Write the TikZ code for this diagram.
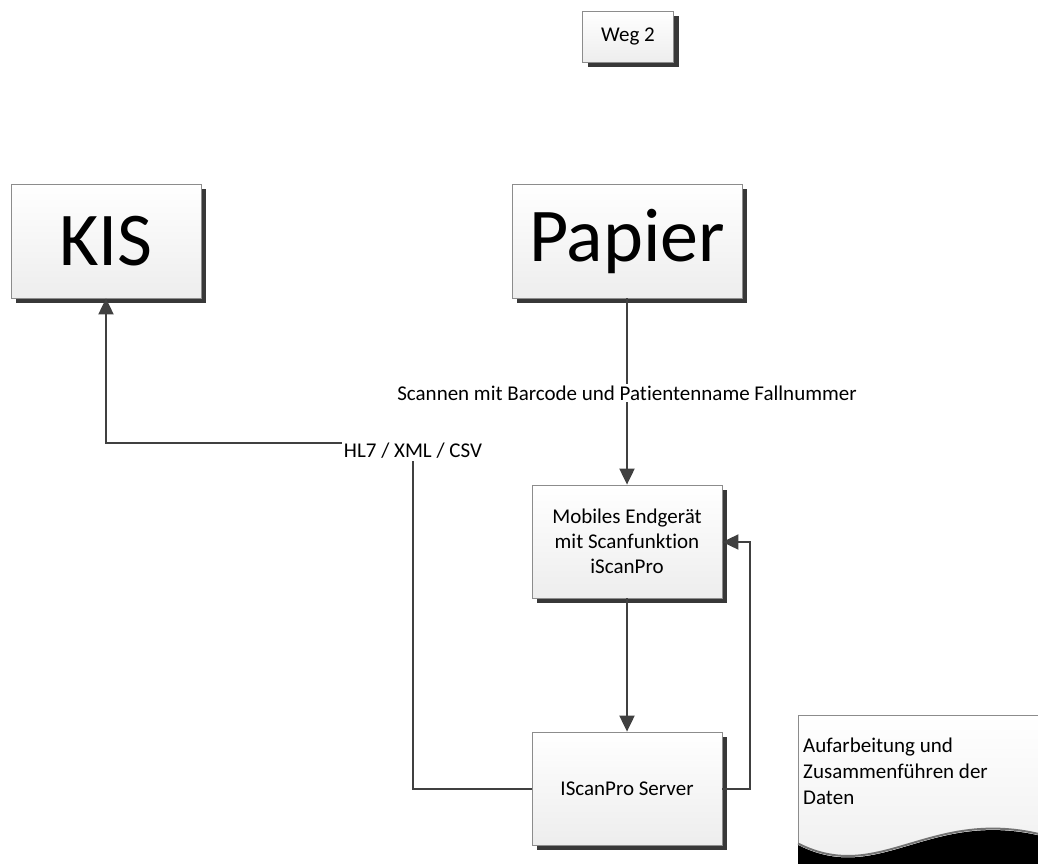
\documentclass[tikz,border=0pt]{standalone}
\usepackage{fontspec}
\setmainfont{Carlito}[Ligatures=NoCommon]
\usetikzlibrary{arrows.meta,shadows}
\begin{document}
\begin{tikzpicture}[x=1pt,y=-1pt,
  box/.style={draw=black!45, line width=0.8pt, top color=white, bottom color=black!7,
    inner sep=0pt, align=center, font=\fontsize{21}{25}\selectfont,
    drop shadow={shadow xshift=5pt, shadow yshift=-5pt, fill=black!78, opacity=1}},
  conn/.style={draw=black!75, line width=2pt, -{Triangle[length=16pt,width=15pt]}},
  lbl/.style={fill=white, inner sep=2pt, font=\fontsize{21}{25}\selectfont}]
\useasboundingbox (0,0) rectangle (1038,864);

\node[box, minimum width=91pt, minimum height=51pt] (weg) at (628,36.5) {Weg 2};
\node[box, minimum width=190pt, minimum height=114pt, font=\fontsize{76}{80}\selectfont] (kis) at (106,241) {KIS};
\node[box, minimum width=230pt, minimum height=114pt, font=\fontsize{76}{80}\selectfont] (pap) at (627,241) {\raisebox{-4pt}{Papier}};
\node[box, minimum width=190pt, minimum height=113pt] (mob) at (627,541.5) {Mobiles Endgerät\\mit Scanfunktion\\iScanPro};
\node[box, minimum width=190pt, minimum height=113pt] (srv) at (627,788.5) {IScanPro Server};

% connectors
\draw[conn] (pap.south) -- (mob.north);
\node[lbl] (scanlbl) at (627,393) {Scannen mit Barcode und Patientenname Fallnummer};
\draw[conn] (mob.south) -- (srv.north);
\coordinate (r1) at (750,788.5);
\coordinate (r2) at (750,542);
\draw[conn] (srv.east) -- (r1) -- (r2) -- (mob.east |- r2);
\coordinate (l1) at (413,788.5);
\coordinate (l2) at (413,443);
\coordinate (l3) at (106,443);
\draw[conn] (srv.west) -- (l1) -- (l2) -- (l3) -- (kis.south);
\node[lbl] (hllbl) at (413,451) {HL7 / XML / CSV};

% document shape
\begin{scope}
\clip (0,0) rectangle (1038,864);
\shade[top color=white, bottom color=black!7] (798,843) -- (798,715) -- (1045,715) -- (1045,835)
  .. controls (930,805) and (880,885) .. (798,843) -- cycle;
\draw[black!45, line width=0.8pt] (798,843) -- (798,715) -- (1045,715);
\fill[black] (798,845) .. controls (880,887) and (930,807) .. (1045,837) -- (1045,870) -- (798,870) -- cycle;
\draw[black!55, line width=2pt] (798,843.5) .. controls (880,885.5) and (930,805.5) .. (1045,835.5);
\end{scope}
\node[anchor=north west, align=left, inner sep=0pt, font=\fontsize{21}{26}\selectfont] (doc) at (803,738)
  {Aufarbeitung und\\Zusammenführen der\\Daten};
\end{tikzpicture}
\end{document}
